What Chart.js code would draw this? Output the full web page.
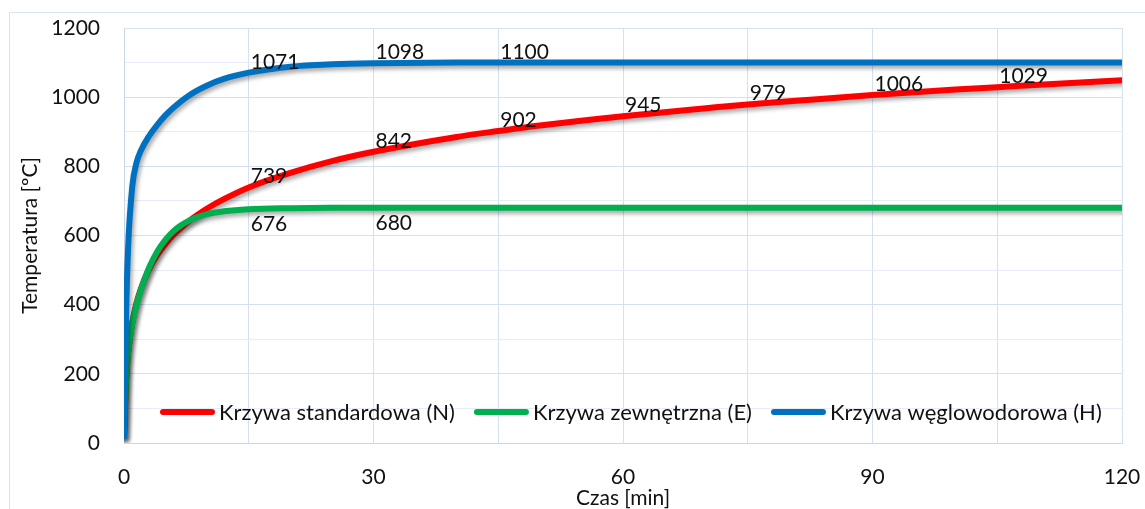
<!DOCTYPE html>
<html>
<head>
<meta charset="utf-8">
<script src="https://cdn.jsdelivr.net/npm/chart.js@4"></script>
<style>
  body { margin: 0; background: #fff; }
  #box { width: 1145px; height: 509px; }
</style>
</head>
<body>
<div id="box"><canvas id="wykres"></canvas></div>
<script>
// czas w minutach i temperatury
var czas = [0, 0.25, 0.5, 1, 1.5, 2, 3, 4, 5, 6, 8, 10, 12, 15, 20, 25, 30, 40, 45, 50, 60, 70, 75, 80, 90, 100, 105, 110, 120];
var krzywaN = [20, 185, 261, 349, 404, 444, 502, 544, 576, 603, 645, 678, 705, 739, 781, 815, 842, 885, 902, 918, 945, 968, 979, 988, 1006, 1022, 1029, 1036, 1049];
var krzywaE = [20, 182, 263, 346, 399, 441, 506, 554, 588, 614, 645, 662, 670, 676, 679, 680, 680, 680, 680, 680, 680, 680, 680, 680, 680, 680, 680, 680, 680];
var krzywaH = [20, 373, 568, 743, 810, 844, 887, 920, 948, 971, 1008, 1034, 1053, 1071, 1088, 1095, 1098, 1100, 1100, 1100, 1100, 1100, 1100, 1100, 1100, 1100, 1100, 1100, 1100];

// chwile (min), przy których są etykiety wartości
var etykietyN = [15, 30, 45, 60, 75, 90, 105];
var etykietyE = [15, 30];
var etykietyH = [15, 30, 45];

var nazwy = ['Krzywa standardowa (N)', 'Krzywa zewnętrzna (E)', 'Krzywa węglowodorowa (H)'];
var kolory = ['#ff0000', '#00b050', '#0070c0'];

var ticksX = [0, 30, 60, 90, 120];
var ticksY = [0, 200, 400, 600, 800, 1000, 1200];

var FONT = 'Lato';

function punkty(wartosci) {
  return czas.map(function (t, i) { return { x: t, y: wartosci[i] }; });
}

var ramka = {
  id: 'ramka',
  beforeDraw: function (chart) {
    var ctx = chart.ctx;
    ctx.save();
    ctx.strokeStyle = '#d9e2f0';
    ctx.lineWidth = 1;
    ctx.strokeRect(9.5, 12.5, 1300, 600);
    ctx.restore();
  }
};

var cien = {
  id: 'cien',
  beforeDatasetDraw: function (chart) {
    var ctx = chart.ctx;
    ctx.save();
    ctx.shadowColor = 'rgba(0,0,0,0.35)';
    ctx.shadowBlur = 4;
    ctx.shadowOffsetX = 2;
    ctx.shadowOffsetY = 3;
  },
  afterDatasetDraw: function (chart) {
    chart.ctx.restore();
  }
};

var etykiety = {
  id: 'etykiety',
  afterDatasetsDraw: function (chart) {
    var ctx = chart.ctx;
    ctx.save();
    ctx.font = '21px ' + FONT;
    ctx.fillStyle = '#111';
    ctx.textAlign = 'left';
    ctx.textBaseline = 'alphabetic';
    chart.data.datasets.forEach(function (ds, i) {
      var meta = chart.getDatasetMeta(i);
      ds.etykiety.forEach(function (t) {
        var idx = czas.indexOf(t);
        var p = meta.data[idx];
        var dy = ds.pod ? 22 : -4;
        ctx.fillText(String(ds.data[idx].y), p.x + 2, p.y + dy);
      });
    });
    ctx.restore();
  }
};

var legenda = {
  id: 'legenda',
  afterDatasetsDraw: function (chart) {
    var ctx = chart.ctx;
    var area = chart.chartArea;
    ctx.save();
    ctx.font = '22px ' + FONT;
    ctx.textBaseline = 'middle';
    ctx.textAlign = 'left';
    var x = area.left + 36;
    var y = area.bottom - 31;
    chart.data.datasets.forEach(function (ds) {
      ctx.strokeStyle = ds.borderColor;
      ctx.lineWidth = 6;
      ctx.lineCap = 'round';
      ctx.beginPath();
      ctx.moveTo(x + 3, y);
      ctx.lineTo(x + 52, y);
      ctx.stroke();
      ctx.fillStyle = '#111';
      ctx.fillText(ds.label, x + 59, y + 1);
      x += 59 + ctx.measureText(ds.label).width + 19;
    });
    ctx.restore();
  }
};

function zbior(i, dane, ety, pod, kolejnosc) {
  return {
    label: nazwy[i],
    data: punkty(dane),
    borderColor: kolory[i],
    backgroundColor: kolory[i],
    borderWidth: 6,
    pointRadius: 0,
    cubicInterpolationMode: 'monotone',
    borderCapStyle: 'round',
    etykiety: ety,
    pod: pod,
    order: kolejnosc
  };
}

new Chart(document.getElementById('wykres'), {
  type: 'line',
  data: {
    datasets: [
      zbior(0, krzywaN, etykietyN, false, 2),
      zbior(1, krzywaE, etykietyE, true, 1),
      zbior(2, krzywaH, etykietyH, false, 0)
    ]
  },
  plugins: [ramka, cien, etykiety, legenda],
  options: {
    responsive: true,
    maintainAspectRatio: false,
    animation: false,
    layout: { padding: { left: 10, right: 23, top: 28, bottom: 0 } },
    plugins: { legend: { display: false }, tooltip: { enabled: false } },
    scales: {
      x: {
        type: 'linear',
        min: 0,
        max: 120,
        afterFit: function (s) { s.height = 66; s.paddingLeft = 0; s.paddingRight = 0; },
        ticks: {
          stepSize: 15,
          autoSkip: false,
          maxRotation: 0,
          padding: 22,
          color: '#111',
          font: { family: FONT, size: 21 },
          callback: function (v) { return ticksX.indexOf(v) >= 0 ? String(v) : ''; }
        },
        grid: { color: '#d6e1f0', drawTicks: false },
        border: { color: '#c8d6ea' },
        title: {
          display: true,
          text: 'Czas [min]',
          color: '#111',
          font: { family: FONT, size: 21 },
          padding: { top: 0, bottom: -2 }
        }
      },
      y: {
        min: 0,
        max: 1200,
        afterFit: function (s) { s.width = 114; s.paddingTop = 0; s.paddingBottom = 0; },
        ticks: {
          stepSize: 100,
          padding: 24,
          color: '#111',
          font: { family: FONT, size: 21 },
          callback: function (v) { return ticksY.indexOf(v) >= 0 ? String(v) : ''; }
        },
        grid: {
          drawTicks: false,
          color: function (c) { return c.tick && c.tick.value % 200 === 0 ? '#d6e1f0' : '#e6edf6'; }
        },
        border: { color: '#c8d6ea' },
        title: {
          display: true,
          text: 'Temperatura [ºC]',
          color: '#111',
          font: { family: FONT, size: 21 },
          padding: { top: 8, bottom: 0 }
        }
      }
    }
  }
});
</script>
</body>
</html>
